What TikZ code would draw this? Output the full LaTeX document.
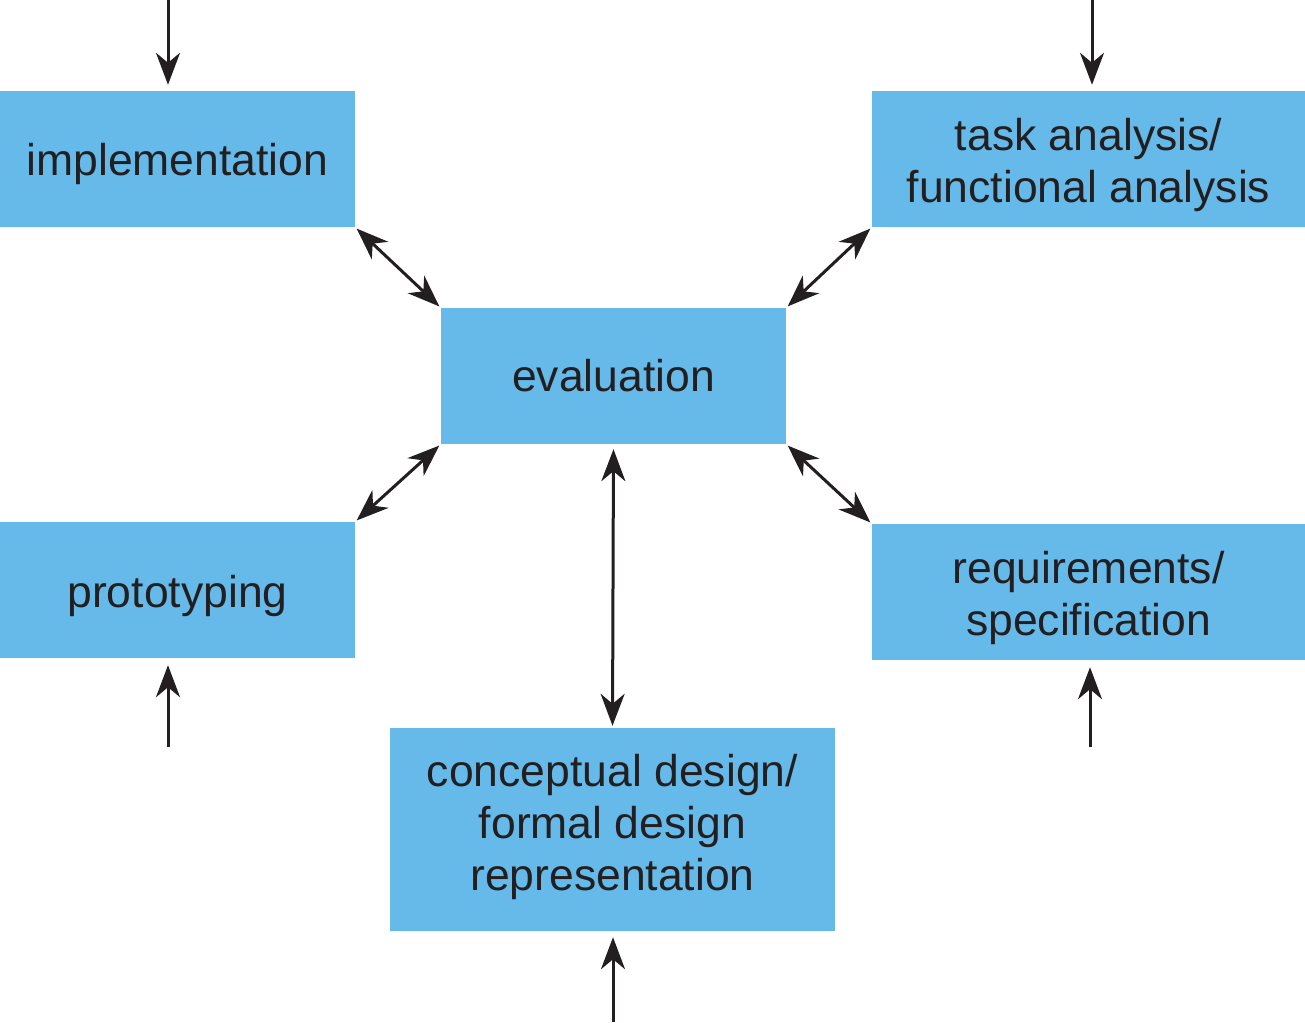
\documentclass[tikz,border=0pt]{standalone}
\usepackage{fontspec}
\setmainfont{Liberation Sans}
\usetikzlibrary{arrows.meta}
\definecolor{boxblue}{HTML}{65BAEA}
\definecolor{ink}{HTML}{231F20}
\newcommand\shiftedtext[2]{\raisebox{#1}[\height][\depth]{\begin{tabular}{@{}c@{}}#2\end{tabular}}}
\begin{document}
\begin{tikzpicture}[x=1pt,y=-1pt,
  box/.style={fill=boxblue,draw=none,inner sep=0pt,align=center,text=ink,
    font=\fontsize{44.5}{52}\selectfont},
  arr/.style={draw=ink,line width=3pt,-{Stealth[length=32pt,width=24pt,inset=10pt]}},
  darr/.style={draw=ink,line width=3pt,{Stealth[length=32pt,width=24pt,inset=10pt]}-{Stealth[length=32pt,width=24pt,inset=10pt]},shorten <=2pt,shorten >=2pt}]
\useasboundingbox (0,0) rectangle (1305,1022);
\node[box,minimum width=355pt,minimum height=136pt] (impl) at (177.5,159) {\shiftedtext{-6pt}{implementation}};
\node[box,minimum width=433pt,minimum height=136pt] (task) at (1088.5,159) {\shiftedtext{-7pt}{task analysis/\\functional analysis}};
\node[box,minimum width=345pt,minimum height=136pt] (eval) at (613.5,376) {\shiftedtext{-5pt}{evaluation}};
\node[box,minimum width=355pt,minimum height=136pt] (proto) at (177.5,590) {\shiftedtext{-7pt}{prototyping}};
\node[box,minimum width=433pt,minimum height=136pt] (req) at (1088.5,592) {\shiftedtext{-7pt}{requirements/\\specification}};
\node[box,minimum width=445pt,minimum height=203pt] (concept) at (612.5,829.5) {\shiftedtext{1pt}{conceptual design/\\formal design\\representation}};
% double arrows
\draw[darr] (impl.south east) -- (eval.north west);
\draw[darr] (task.south west) -- (eval.north east);
\draw[darr] (proto.north east) -- (eval.south west);
\draw[darr] (req.north west) -- (eval.south east);
\draw[darr,shorten <=5pt,shorten >=2pt] (eval.south) -- (concept.north);
% inputs
\coordinate (in1) at (168,0);
\coordinate (in2) at (1092,0);
\coordinate (in3) at (168,747);
\coordinate (in4) at (1090,747);
\coordinate (in5) at (613,1022);
\draw[arr,shorten >=6pt] (in1) -- (in1 |- impl.north);
\draw[arr,shorten >=6pt] (in2) -- (in2 |- task.north);
\draw[arr,shorten >=7pt] (in3) -- (in3 |- proto.south);
\draw[arr,shorten >=7pt] (in4) -- (in4 |- req.south);
\draw[arr,shorten >=6pt] (in5) -- (in5 |- concept.south);
\end{tikzpicture}
\end{document}
